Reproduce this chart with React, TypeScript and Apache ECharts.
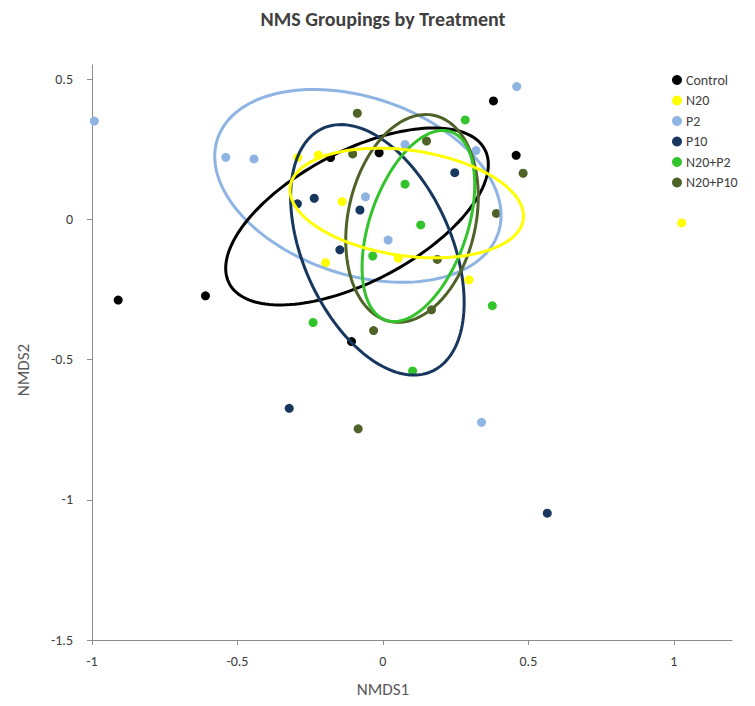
import React, { useEffect, useRef } from "react";
import * as echarts from "echarts";

// ---- Data ----
const categories = ["Control", "N20", "P2", "P10", "N20+P2", "N20+P10"];

const controlPts = [
  [-0.91, -0.288], [-0.61, -0.273], [-0.18, 0.22], [-0.013, 0.237],
  [0.38, 0.422], [0.458, 0.228], [-0.108, -0.436],
];
const n20Pts = [
  [-0.293, 0.22], [-0.222, 0.229], [-0.14, 0.063], [-0.197, -0.155],
  [0.053, -0.139], [0.296, -0.216], [1.027, -0.013],
];
const p2Pts = [
  [-0.992, 0.35], [-0.54, 0.221], [-0.443, 0.215], [-0.06, 0.08],
  [0.076, 0.267], [0.46, 0.473], [0.32, 0.245], [0.018, -0.074], [0.339, -0.724],
];
const p10Pts = [
  [-0.236, 0.075], [-0.079, 0.033], [0.247, 0.166], [-0.148, -0.109],
  [-0.322, -0.674], [0.565, -1.048], [-0.294, 0.055],
];
const n20p2Pts = [
  [0.283, 0.354], [0.076, 0.125], [0.13, -0.02], [-0.035, -0.131],
  [0.376, -0.308], [-0.24, -0.368], [0.102, -0.541],
];
const n20p10Pts = [
  [-0.104, 0.233], [-0.088, 0.378], [0.15, 0.279], [0.482, 0.164],
  [0.39, 0.021], [0.187, -0.143], [-0.032, -0.397], [-0.085, -0.747], [0.167, -0.323],
];
const groupPoints = [controlPts, n20Pts, p2Pts, p10Pts, n20p2Pts, n20p10Pts];

// ellipse parameters per category (data units, angle in degrees)
const ellipseCenterX = [-0.089, 0.082, -0.086, -0.019, 0.122, 0.1];
const ellipseCenterY = [0.01, 0.058, 0.119, -0.109, -0.024, 0.003];
const ellipseSemiMajor = [0.5, 0.405, 0.511, 0.472, 0.354, 0.375];
const ellipseSemiMinor = [0.231, 0.188, 0.315, 0.256, 0.168, 0.22];
const ellipseAngle = [29, -8.5, -20, -67.3, 72, 78.8];

const xTicks = [-1, -0.5, 0, 0.5, 1];
const yTicks = [-1.5, -1, -0.5, 0, 0.5];

// ---- Styles ----
const colors = ["#000000", "#FFFF00", "#8DB4E2", "#17375E", "#33C42B", "#4F6228"];
const ellipseOrder = [2, 0, 3, 5, 4, 1];
const FONT = "Carlito, Lato, 'Open Sans', sans-serif";

export default function App() {
  const ref = useRef<HTMLDivElement>(null);

  useEffect(() => {
    if (!ref.current) return;
    const chart = echarts.init(ref.current, null, { renderer: "svg" });

    const scatterSeries = categories.map((name, i) => ({
      type: "scatter",
      name,
      data: groupPoints[i],
      symbol: "circle",
      symbolSize: 9,
      itemStyle: { color: colors[i], opacity: 1 },
      z: 2,
    }));

    const ellipseSeries = ellipseOrder.map((i, k) => ({
      type: "custom",
      name: categories[i] + " ellipse",
      coordinateSystem: "cartesian2d",
      encode: { x: 0, y: 1 },
      data: [[ellipseCenterX[i], ellipseCenterY[i], ellipseSemiMajor[i], ellipseSemiMinor[i], ellipseAngle[i]]],
      clip: false,
      silent: true,
      z: 3 + k,
      renderItem: (params: any, api: any) => {
        const cx = api.value(0);
        const cy = api.value(1);
        const a = api.value(2);
        const b = api.value(3);
        const ang = (api.value(4) * Math.PI) / 180;
        const pts: number[][] = [];
        const n = 160;
        for (let j = 0; j <= n; j++) {
          const t = (j / n) * Math.PI * 2;
          const ex = a * Math.cos(t);
          const ey = b * Math.sin(t);
          pts.push(
            api.coord([
              cx + ex * Math.cos(ang) - ey * Math.sin(ang),
              cy + ex * Math.sin(ang) + ey * Math.cos(ang),
            ])
          );
        }
        return {
          type: "polyline",
          shape: { points: pts },
          style: { stroke: colors[i], lineWidth: 3, fill: null },
        };
      },
    }));

    const axisCommon = {
      type: "value",
      splitLine: { show: false },
      axisLine: { show: true, onZero: false, lineStyle: { color: "#8C8C8C", width: 1 } },
      axisTick: { show: true, length: 5, lineStyle: { color: "#8C8C8C" } },
    };

    chart.setOption({
      animation: false,
      backgroundColor: "#ffffff",
      grid: { left: 92, right: 23, top: 65, bottom: 66 },
      xAxis: {
        ...axisCommon,
        min: -1,
        max: 1.2,
        axisTick: { ...axisCommon.axisTick, customValues: xTicks },
        axisLabel: {
          customValues: xTicks,
          margin: 14,
          color: "#404040",
          fontSize: 14,
          fontFamily: FONT,
        },
      },
      yAxis: {
        ...axisCommon,
        min: -1.5,
        max: 0.55,
        axisTick: { ...axisCommon.axisTick, customValues: yTicks },
        axisLabel: {
          customValues: yTicks,
          margin: 19,
          color: "#404040",
          fontSize: 14,
          fontFamily: FONT,
        },
      },
      legend: {
        orient: "vertical",
        left: 672,
        top: 73,
        padding: 0,
        itemGap: 6.5,
        itemWidth: 10,
        itemHeight: 10,
        data: categories.map((name) => ({ name, icon: "circle" })),
        textStyle: { color: "#404040", fontSize: 14, fontFamily: FONT, lineHeight: 14, padding: [0, 0, 0, -1] },
        selectedMode: false,
      },
      graphic: [
        {
          type: "text",
          x: 383,
          y: 19,
          style: {
            text: "NMS Groupings by Treatment",
            fill: "#404040",
            font: `bold 20px ${FONT}`,
            textAlign: "center",
            textVerticalAlign: "middle",
          },
        },
        {
          type: "text",
          x: 383,
          y: 689,
          style: {
            text: "NMDS1",
            fill: "#595959",
            font: `17px ${FONT}`,
            textAlign: "center",
            textVerticalAlign: "middle",
          },
        },
        {
          type: "text",
          x: 23,
          y: 370,
          rotation: Math.PI / 2,
          style: {
            text: "NMDS2",
            fill: "#595959",
            font: `17px ${FONT}`,
            textAlign: "center",
            textVerticalAlign: "middle",
          },
        },
      ],
      series: [...scatterSeries, ...ellipseSeries],
    });

    return () => chart.dispose();
  }, []);

  return (
    <div
      ref={ref}
      style={{ position: "fixed", left: 0, top: 0, width: 755, height: 706, background: "#fff" }}
    />
  );
}
